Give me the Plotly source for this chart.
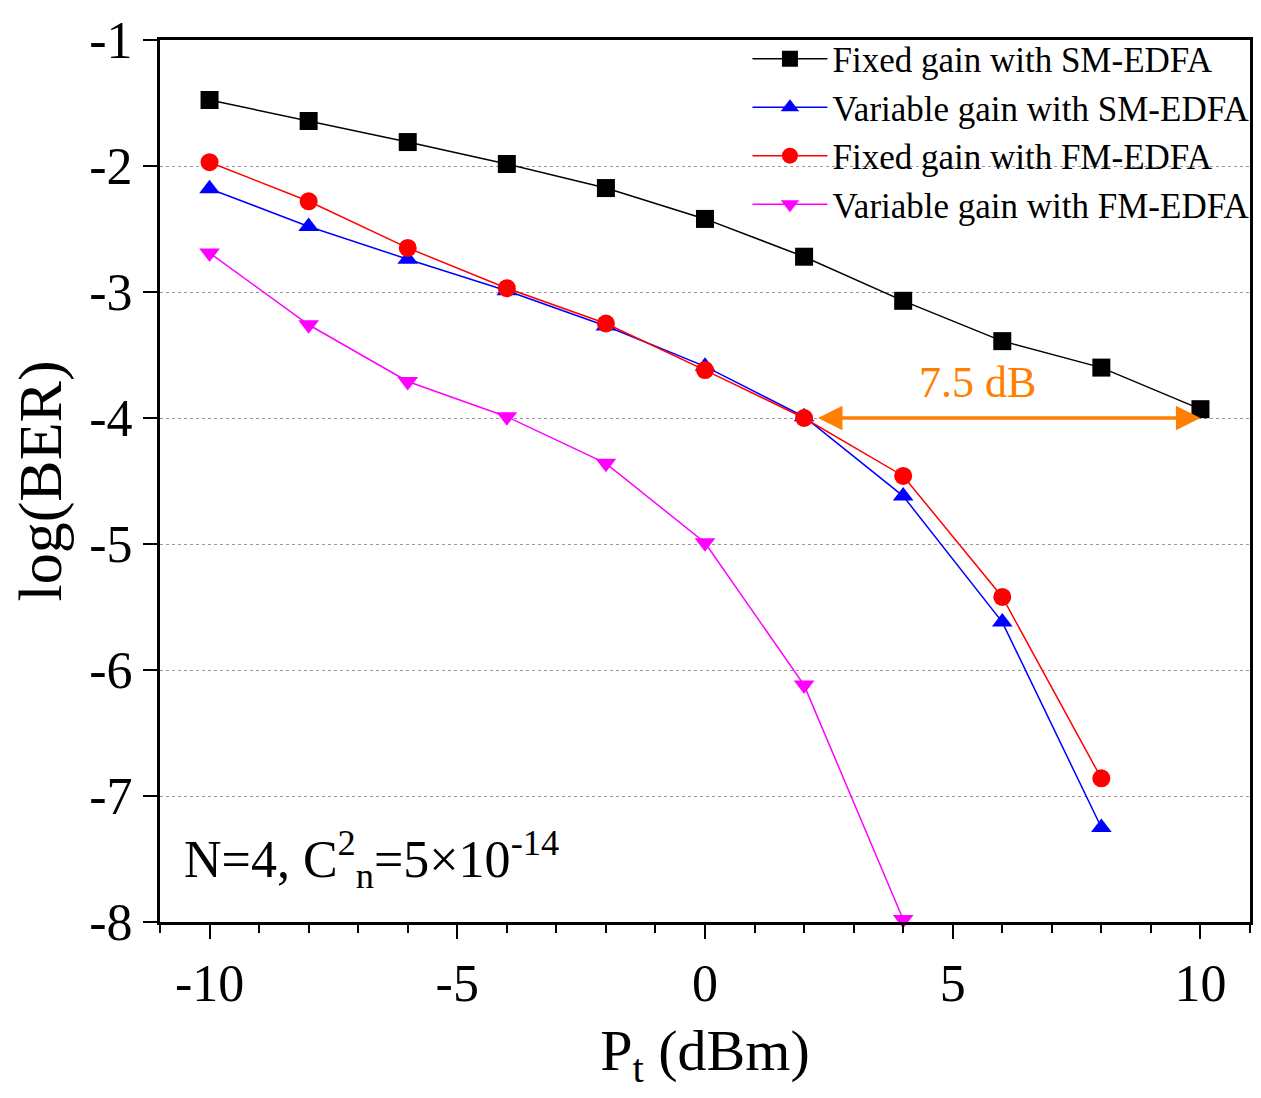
import plotly.graph_objects as go

x_pt = [-10, -8, -6, -4, -2, 0, 2, 4, 6, 8, 10]
fixed_sm = [-1.476, -1.643, -1.81, -1.984, -2.175, -2.42, -2.72, -3.07, -3.39, -3.60, -3.93]
var_sm = [-2.18, -2.48, -2.74, -2.99, -3.27, -3.59, -3.99, -4.62, -5.62, -7.25]
fixed_fm = [-1.97, -2.28, -2.65, -2.97, -3.25, -3.62, -4.0, -4.46, -5.42, -6.86]
var_fm = [-2.69, -3.26, -3.71, -3.99, -4.36, -4.99, -6.12, -7.98]
names = ["Fixed gain with SM-EDFA", "Variable gain with SM-EDFA",
         "Fixed gain with FM-EDFA", "Variable gain with FM-EDFA"]
colors = ["black", "#0000ff", "#ff0000", "#ff00ff"]
symbols = ["square", "triangle-up", "circle", "triangle-down"]
series = [fixed_sm, var_sm, fixed_fm, var_fm]

x_ticks = [-10, -5, 0, 5, 10]
x_ticktext = ["-10", "-5", "0", "5", "10"]
y_ticks = [-8, -7, -6, -5, -4, -3, -2, -1]
y_ticktext = ["-8", "-7", "-6", "-5", "-4", "-3", "-2", "-1"]

FONT = "Liberation Serif, Times New Roman, serif"

fig = go.Figure()
for name, ys, c, s in zip(names, series, colors, symbols):
    fig.add_trace(go.Scatter(
        x=x_pt[:len(ys)], y=ys, mode="lines+markers", name=name,
        line=dict(color=c, width=1.5),
        marker=dict(symbol=s, size=18, color=c),
        cliponaxis=False,
    ))

fig.update_layout(
    width=1261, height=1098,
    margin=dict(l=160, r=6, t=40, b=176),
    paper_bgcolor="white", plot_bgcolor="white",
    font=dict(family=FONT, color="black"),
    showlegend=True,
    legend=dict(x=1.005, y=1.012, xanchor="right", yanchor="top",
                bgcolor="rgba(0,0,0,0)", font=dict(size=35, family=FONT),
                itemwidth=75, tracegroupgap=0),
    xaxis=dict(range=[-11, 11], tickvals=x_ticks, ticktext=x_ticktext,
               ticks="outside", ticklen=14, tickwidth=2, tickcolor="black",
               minor=dict(dtick=1, ticks="outside", ticklen=8, tickwidth=2, tickcolor="black"),
               showline=True, linewidth=3, linecolor="black", mirror=True,
               showgrid=False, zeroline=False,
               tickfont=dict(size=52, family=FONT),
               title=dict(text="P<sub>t</sub> (dBm)", font=dict(size=58, family=FONT), standoff=18)),
    yaxis=dict(range=[-8, -1], tickvals=y_ticks, ticktext=y_ticktext,
               ticks="outside", ticklen=14, tickwidth=2, tickcolor="black",
               showline=True, linewidth=3, linecolor="black", mirror=True,
               showgrid=True, gridcolor="#999999", griddash="dot", gridwidth=1,
               zeroline=False,
               tickfont=dict(size=52, family=FONT),
               title=dict(text="log(BER)", font=dict(size=62, family=FONT), standoff=8)),
)

fig.add_annotation(x=10, y=-4, ax=2.25, ay=-4, xref="x", yref="y", axref="x", ayref="y",
                   text="", showarrow=True, arrowhead=2, arrowside="end+start",
                   arrowsize=1.4, arrowwidth=3.5, arrowcolor="#ff8000")
fig.add_annotation(x=5.5, y=-3.72, xref="x", yref="y", text="7.5 dB", showarrow=False,
                   font=dict(size=44, color="#ff8000", family=FONT))
fig.add_annotation(x=-10.55, y=-7.5, xref="x", yref="y", xanchor="left",
                   text="N=4, C<sup>2</sup><sub>n</sub>=5×10<sup>-14</sup>", showarrow=False,
                   font=dict(size=52, color="black", family=FONT))

fig.write_html("out.html")
